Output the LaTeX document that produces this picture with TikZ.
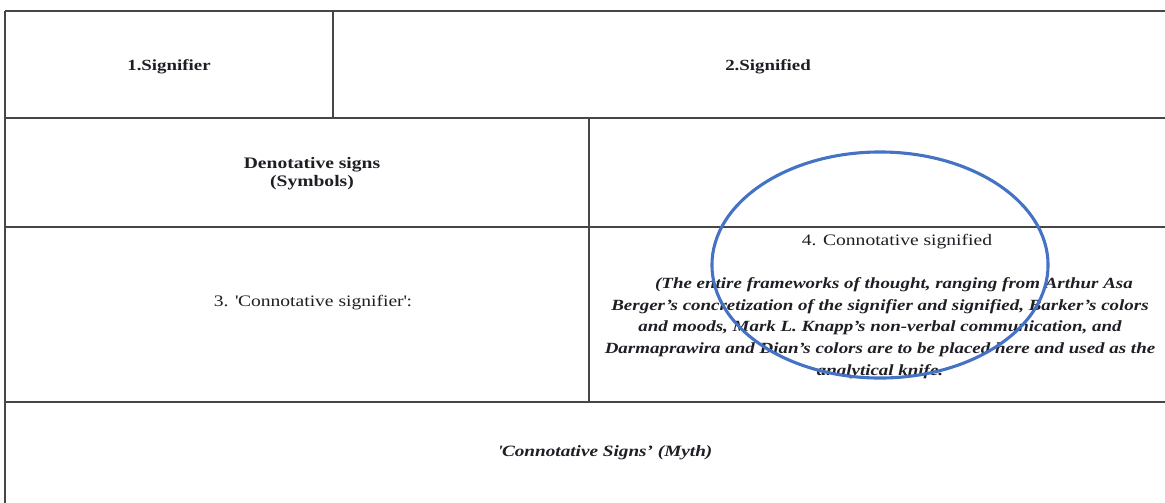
\documentclass[tikz,border=0pt]{standalone}
\usepackage{fontspec}
\setmainfont{Liberation Serif}[FakeStretch=1.22]
\usepackage{xcolor}
\definecolor{gridgray}{RGB}{70,70,70}
\definecolor{ovalblue}{RGB}{68,114,196}
\definecolor{inkblack}{RGB}{30,30,36}

\begin{document}
\begin{tikzpicture}[x=0.025cm,y=-0.025cm,
	celltext/.style={text=inkblack,align=center,inner sep=0pt,font=\fontsize{11.4}{12.8}\selectfont},
	gridline/.style={draw=gridgray,line width=1.05pt}]
				\useasboundingbox (0,0) rectangle (1165,502);
				
				% Rows and columns
				\foreach \y in {11,118,227,402} {
					\draw[gridline] (5,\y) -- (1170,\y);
				}
				\draw[gridline] (5,11) -- (5,506);
				\draw[gridline] (333,11) -- (333,118);
				\draw[gridline] (589,118) -- (589,402);
				
				% Cell labels
				\node[celltext,font=\fontsize{11}{12.8}\selectfont\bfseries] (sgnr) at (169,67) {1.Signifier};
				\node[celltext,font=\fontsize{11}{12.8}\selectfont\bfseries] (sgnd) at (768,67) {2.Signified};
				\node[celltext,font=\fontsize{11.4}{12.8}\selectfont\bfseries] (denot) at (312,174) {Denotative signs\\(Symbols)};
				\node[celltext] (consignr) at (313,303) {3. \textquotesingle Connotative signifier\textquotesingle:};
				\node[celltext] (consignd) at (897,242) {4. Connotative signified};
				\node[celltext,font=\fontsize{11.05}{15.4}\selectfont\bfseries\itshape] (frame) at (880,328)
					{\hspace*{1.8em}(The entire frameworks of thought, ranging from Arthur Asa\\
					Berger’s concretization of the signifier and signified, Barker’s colors\\
					and moods, Mark L. Knapp’s non-verbal communication, and\\
					Darmaprawira and Dian’s colors are to be placed here and used as the\\
					analytical knife.};
				\node[celltext,font=\fontsize{11.2}{12.8}\selectfont\bfseries\itshape] (myth) at (605,453) {\textquotesingle Connotative Signs’ (Myth)};
				
				% Oval mark
				\draw[ovalblue,line width=2.2pt] (880,265) ellipse [x radius=4.2cm, y radius=2.825cm];
			\end{tikzpicture}
\end{document}
